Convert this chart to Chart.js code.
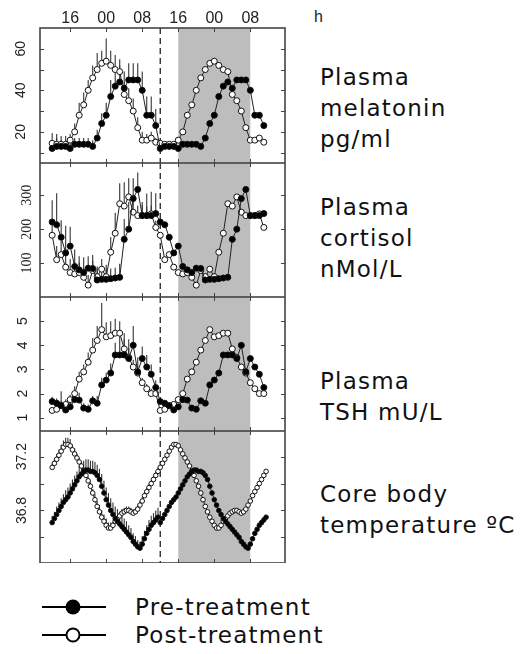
<!DOCTYPE html>
<html lang="en">
<head>
<meta charset="UTF-8">
<title>Hormone and temperature rhythms</title>
<script src="https://cdn.jsdelivr.net/npm/chart.js"></script>
<style>
  body { margin: 0; background: #fff; }
  #fig { position: relative; width: 527px; height: 654px; overflow: hidden; font-family: 'DejaVu Sans', sans-serif; color: #111; }
  #fig canvas { position: absolute; left: 0; }
  .side { position: absolute; left: 320px; font-size: 23px; line-height: 31px; letter-spacing: 1.2px; white-space: nowrap; }
  .unit { position: absolute; left: 314px; top: 8px; font: 16px 'Liberation Sans', Arial, sans-serif; color: #222; }
  .leg { position: absolute; left: 42px; height: 30px; display: flex; align-items: center; font-size: 23px; letter-spacing: 1.2px; white-space: nowrap; }
  .leg svg { margin-right: 29px; }
</style>
</head>
<body>
<div id="fig">
  <canvas id="c1" width="300" height="163" style="top:0"></canvas>
  <canvas id="c2" width="300" height="134" style="top:163px"></canvas>
  <canvas id="c3" width="300" height="134" style="top:297px"></canvas>
  <canvas id="c4" width="300" height="132" style="top:431px"></canvas>
  <div class="unit">h</div>
  <div class="side" style="top:62px">Plasma<br>melatonin<br>pg/ml</div>
  <div class="side" style="top:192px">Plasma<br>cortisol<br>nMol/L</div>
  <div class="side" style="top:366px">Plasma<br>TSH mU/L</div>
  <div class="side" style="top:479px">Core body<br>temperature ºC</div>
  <div class="leg" style="top:592px"><svg width="64" height="20"><line x1="0" y1="10" x2="64" y2="10" stroke="#000" stroke-width="2"/><circle cx="31" cy="10" r="7.5" fill="#000"/></svg>Pre-treatment</div>
  <div class="leg" style="top:620px"><svg width="64" height="20"><line x1="0" y1="10" x2="64" y2="10" stroke="#000" stroke-width="2"/><circle cx="31" cy="10" r="6.5" fill="#fff" stroke="#000" stroke-width="2"/></svg>Post-treatment</div>
</div>
<script>
// clock time in hours, day 1 (the same 24 h profile is double-plotted on day 2)
const hours = [12,13,14,15,16,17,18,19,20,21,22,23,24,25,26,27,28,29,30,31,32,33,34,35];
const tempHours = [12,12.5,13,13.5,14,14.5,15,15.5,16,16.5,17,17.5,18,18.5,19,19.5,20,20.5,21,21.5,22,22.5,23,23.5,
                   24,24.5,25,25.5,26,26.5,27,27.5,28,28.5,29,29.5,30,30.5,31,31.5,32,32.5,33,33.5,34,34.5,35,35.5];
const hourTicks = [16, 24, 32, 40, 48, 56];
const hourLabels = ['16', '00', '08', '16', '00', '08'];
const treatmentHour = 36;
const nightBand = [40, 56];

// melatonin pg/ml
const melPre = [12,13,13,13,12,14,14,14,14,13,17,24,28,37,42,44,41,45,45,45,40,28,28,23];
const melPost = [14.5,14,14,14,16,20,28,33,40,46,50,53,54,52,50,49,38,35,30,22,16,16,17,15];
const melPreErr = [4,4,3,3,3,3,3,3,3,3,4,5,6,8,9,8,8,8,8,8,9,9,9,8];
const melPostErr = [5,5,4,4,3,4,6,6,5,6,8,6,11,7,7,6,6,6,6,5,4,3,3,2];

// cortisol nmol/L
const cortPre = [221,213,176,130,150,90,80,72,85,84,50,52,52,54,56,58,170,200,290,317,240,240,240,246];
const cortPost = [182,110,125,88,72,68,72,58,35,78,60,82,60,132,188,275,268,295,250,240,240,240,245,205];
const cortPreErr = [64,93,50,80,57,50,40,45,35,40,35,35,30,30,30,40,60,80,60,50,40,65,70,60];
const cortPostErr = [45,40,40,40,40,35,30,30,30,30,30,30,35,45,60,60,70,55,40,30,30,25,25,20];

// TSH mU/L
const tshPre = [1.67,1.6,1.5,1.32,1.45,1.75,1.73,1.4,1.35,1.7,1.6,2.36,2.56,2.85,3.6,3.6,3.6,3.45,4.0,2.9,3.45,3.1,2.8,2.25];
const tshPost = [1.3,1.35,1.5,1.55,1.75,2.0,2.6,2.9,3.3,3.8,4.2,4.65,4.35,4.4,4.5,4.5,3.85,3.5,3.1,2.85,2.45,2.2,2.0,2.0];
const tshPreErr = [0.2,0.2,0.6,0.2,0.2,0.2,0.3,0.2,0.2,0.2,0.3,0.3,0.3,0.4,0.5,0.9,0.9,0.8,0.8,0.6,0.5,0.5,0.4,0.3];
const tshPostErr = [0.1,0.1,0.2,0.2,0.2,0.3,0.3,0.3,0.4,0.5,0.6,1.1,0.6,0.6,0.6,0.5,0.4,0.4,0.3,0.3,0.2,0.2,0.2,0.1];

// core body temperature, half-hourly
const tempPre = [36.71,36.74,36.77,36.80,36.83,36.86,36.88,36.90,36.93,36.96,36.99,37.02,37.05,37.07,37.09,37.10,
                 37.10,37.09,37.09,37.08,37.06,37.03,36.98,36.93,36.88,36.84,36.80,36.77,36.74,36.72,36.70,36.68,
                 36.66,36.64,36.62,36.60,36.57,36.55,36.53,36.52,36.55,36.59,36.63,36.66,36.69,36.71,36.73,36.75];
const tempPost = [37.12,37.15,37.18,37.21,37.24,37.27,37.29,37.29,37.28,37.25,37.22,37.19,37.16,37.13,37.09,37.06,
                  37.02,36.98,36.93,36.88,36.83,36.79,36.75,36.72,36.69,36.67,36.67,36.69,36.72,36.74,36.76,36.78,
                  36.79,36.80,36.80,36.79,36.78,36.79,36.81,36.84,36.87,36.91,36.94,36.97,37.00,37.03,37.06,37.09];
const tempPreErr = [0.05,0.05,0.06,0.06,0.06,0.06,0.07,0.07,0.07,0.07,0.07,0.07,0.08,0.08,0.08,0.08,
                    0.08,0.08,0.08,0.08,0.08,0.08,0.09,0.09,0.09,0.09,0.09,0.09,0.09,0.09,0.08,0.08,
                    0.08,0.08,0.07,0.07,0.06,0.06,0.05,0.05,0.06,0.06,0.06,0.07,0.07,0.07,0.07,0.07];
const tempPostErr = [0.03,0.03,0.04,0.04,0.05,0.05,0.05,0.05,0.05,0.04,0.04,0.03,0.03,0.03,0.03,0.03,
                     0.03,0.03,0.03,0.04,0.04,0.05,0.05,0.05,0.05,0.04,0.04,0.03,0.03,0.03,0.03,0.03,
                     0.03,0.03,0.03,0.03,0.03,0.03,0.03,0.03,0.03,0.03,0.03,0.03,0.03,0.03,0.03,0.03];

const xMin = 9.3, xMax = 63.7;

// grey night band, dashed treatment line, +SEM bars, frame and inward ticks
const panelDecor = {
  id: 'panelDecor',
  beforeDatasetsDraw(chart) {
    const { ctx, chartArea: a, scales: { x, y } } = chart;
    ctx.save();
    const b0 = x.getPixelForValue(nightBand[0]), b1 = x.getPixelForValue(nightBand[1]);
    ctx.fillStyle = '#bdbdbd';
    ctx.fillRect(b0, a.top, b1 - b0, a.bottom - a.top);
    const dx = x.getPixelForValue(treatmentHour);
    ctx.strokeStyle = '#222';
    ctx.lineWidth = 1.3;
    ctx.setLineDash([6, 4]);
    ctx.beginPath(); ctx.moveTo(dx, a.top); ctx.lineTo(dx, a.bottom); ctx.stroke();
    ctx.setLineDash([]);
    ctx.strokeStyle = '#333';
    ctx.lineWidth = 1.1;
    chart.data.datasets.forEach(ds => {
      ds.errors.forEach((e, i) => {
        const p = ds.data[i];
        const px = x.getPixelForValue(p.x);
        ctx.beginPath();
        ctx.moveTo(px, y.getPixelForValue(p.y));
        ctx.lineTo(px, y.getPixelForValue(p.y + e));
        ctx.stroke();
      });
    });
    ctx.restore();
  },
  afterDraw(chart) {
    const { ctx, chartArea: a, scales: { x, y } } = chart;
    ctx.save();
    ctx.strokeStyle = '#444';
    ctx.lineWidth = 1;
    hourTicks.forEach(h => {
      const px = Math.round(x.getPixelForValue(h)) + 0.5;
      ctx.beginPath();
      ctx.moveTo(px, a.top); ctx.lineTo(px, a.top + 4);
      ctx.moveTo(px, a.bottom); ctx.lineTo(px, a.bottom - 4);
      ctx.stroke();
    });
    y.ticks.forEach(t => {
      const py = Math.round(y.getPixelForValue(t.value)) + 0.5;
      ctx.beginPath();
      ctx.moveTo(a.left, py); ctx.lineTo(a.left + 4, py);
      ctx.moveTo(a.right, py); ctx.lineTo(a.right - 4, py);
      ctx.stroke();
    });
    ctx.lineWidth = 1.6;
    ctx.strokeRect(a.left, a.top, a.right - a.left, a.bottom - a.top);
    ctx.restore();
  }
};

function series(vals, errs, hrs, filled, r) {
  const pts = [];
  hrs.forEach((h, i) => pts.push({ x: h, y: vals[i] }));
  hrs.forEach((h, i) => pts.push({ x: h + 24, y: vals[i] }));
  return {
    data: pts, errors: errs,
    borderColor: '#222', borderWidth: 1,
    pointRadius: r, pointHoverRadius: 0, pointBorderWidth: 1,
    pointBackgroundColor: filled ? '#000' : '#fff', pointBorderColor: '#111'
  };
}

function xAxis(show) {
  return {
    type: 'linear', position: 'top', min: xMin, max: xMax, display: show,
    afterBuildTicks: s => { s.ticks = hourTicks.map(v => ({ value: v })); },
    afterFit: s => { s.height = show ? 28 : 0; s.paddingLeft = 0; s.paddingRight = 0; },
    grid: { display: false, drawTicks: false },
    border: { display: false },
    ticks: {
      padding: 0, autoSkip: false, maxRotation: 0, color: '#222',
      font: { family: 'Liberation Sans', size: 16 },
      callback: v => hourLabels[hourTicks.indexOf(v)]
    }
  };
}

function yAxis(min, max, tickVals, labelled, pad, family) {
  return {
    type: 'linear', position: 'left', min, max,
    afterBuildTicks: s => { s.ticks = tickVals.map(v => ({ value: v })); },
    afterFit: s => { s.width = 40; s.paddingTop = 0; s.paddingBottom = 0; },
    grid: { display: false, drawTicks: false },
    border: { display: false },
    ticks: {
      autoSkip: false, crossAlign: 'center', minRotation: 90, maxRotation: 90,
      padding: pad, color: '#222', font: { family, size: 14 },
      callback: v => labelled.includes(v) ? String(v) : ''
    }
  };
}

function makePanel(id, showHours, y, datasets) {
  return new Chart(document.getElementById(id), {
    type: 'line',
    data: { datasets },
    options: {
      responsive: false, animation: false,
      layout: { autoPadding: false, padding: { left: 0, right: 15, top: 0, bottom: 0 } },
      plugins: { legend: { display: false }, tooltip: { enabled: false } },
      scales: { x: xAxis(showHours), y }
    },
    plugins: [panelDecor]
  });
}

makePanel('c1', true, yAxis(5, 70, [10, 20, 30, 40, 50, 60], [20, 40, 60], 11, 'Liberation Sans'), [
  series(melPre, melPreErr, hours, true, 3),
  series(melPost, melPostErr, hours, false, 3)
]);
makePanel('c2', false, yAxis(0, 395, [100, 200, 300], [100, 200, 300], 2, 'Liberation Serif'), [
  series(cortPre, cortPreErr, hours, true, 3),
  series(cortPost, cortPostErr, hours, false, 3)
]);
makePanel('c3', false, yAxis(0.45, 6, [1, 2, 3, 4, 5], [1, 2, 3, 4, 5], 13, 'Liberation Sans'), [
  series(tshPre, tshPreErr, hours, true, 3),
  series(tshPost, tshPostErr, hours, false, 3)
]);
makePanel('c4', false, yAxis(36.41, 37.39, [36.6, 36.8, 37.0, 37.2], [36.8, 37.2], 4, 'Liberation Sans'), [
  series(tempPre, tempPreErr, tempHours, true, 2.3),
  series(tempPost, tempPostErr, tempHours, false, 2.3)
]);
</script>
</body>
</html>
